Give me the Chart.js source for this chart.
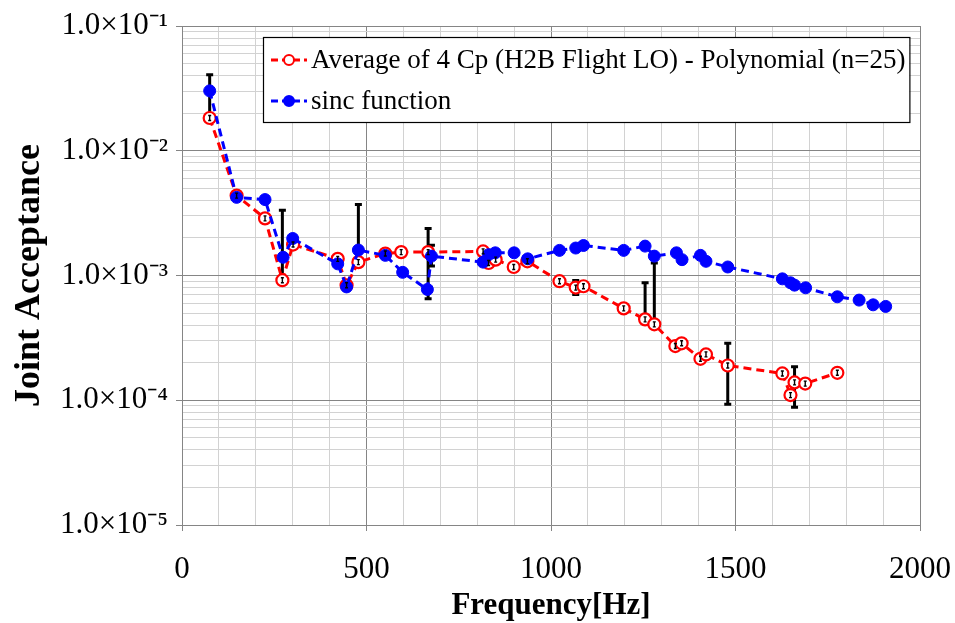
<!DOCTYPE html>
<html>
<head>
<meta charset="utf-8">
<script src="https://cdn.jsdelivr.net/npm/chart.js@4.4.1/dist/chart.umd.min.js"></script>
<style>
html,body{margin:0;padding:0;background:#fff;}
#wrap{width:955px;height:623px;}
</style>
</head>
<body>
<div id="wrap"><canvas id="c" width="955" height="623"></canvas></div>
<script>
// ---- data ----
const seriesRedLabel = 'Average of 4 Cp (H2B Flight LO) - Polynomial (n=25)';
const seriesBlueLabel = 'sinc function';

const freqRed = [75,148,225,272,301,422,446,478,551,594,667,816,831,850,899,936,1023,1067,1088,1197,1255,1280,1337,1354,1405,1420,1479,1627,1649,1660,1689,1776];
const valRed  = [0.0183,0.00437,0.00287,0.000917,0.00177,0.00136,0.000835,0.00128,0.00150,0.00154,0.00154,0.00156,0.00126,0.00134,0.00117,0.00130,0.000900,0.000800,0.000820,0.000545,0.000445,0.000406,0.000272,0.000286,0.000215,0.000233,0.000190,0.000164,0.000110,0.000139,0.000136,0.000166];

const freqBlue = [75,148,225,274,300,422,446,478,551,598,665,676,816,831,849,900,937,1023,1067,1088,1197,1255,1280,1340,1355,1405,1420,1479,1627,1649,1660,1690,1776,1835,1873,1907];
const valBlue  = [0.0302,0.00423,0.00406,0.00140,0.00198,0.00124,0.000810,0.00160,0.00145,0.00106,0.000773,0.00143,0.00128,0.00147,0.00152,0.00152,0.00136,0.00159,0.00166,0.00174,0.00159,0.00172,0.00143,0.00152,0.00134,0.00145,0.00130,0.00117,0.000940,0.000874,0.000837,0.000797,0.000675,0.000635,0.000582,0.000565];

// error bars on the red series
const errFreq = [75,272,478,667,676,1067,1255,1280,1479,1660];
const errLow  = [0.0183,0.000917,0.00128,0.000651,0.00119,0.000705,0.000445,0.000406,0.000093,0.000088];
const errHigh = [0.0406,0.00333,0.00370,0.00238,0.00175,0.000912,0.000874,0.00126,0.000286,0.000186];

const xMin = 0, xMax = 2000, xMinorStep = 100, xMajorStep = 500;
const yMinExp = -5, yMaxExp = -1;

// ---- helpers ----
const SUP = {'-':'\u207B','0':'\u2070','1':'\u00B9','2':'\u00B2','3':'\u00B3','4':'\u2074','5':'\u2075','6':'\u2076','7':'\u2077','8':'\u2078','9':'\u2079'};
function sup(s){ return String(s).split('').map(ch => SUP[ch] || ch).join(''); }
function isDecade(v){ const e = Math.log10(v); return Math.abs(e - Math.round(e)) < 1e-9; }

const yTickValues = [];
for (let e = yMinExp; e < yMaxExp; e++) {
  for (let m = 1; m <= 9; m++) yTickValues.push(m * Math.pow(10, e));
}
yTickValues.push(Math.pow(10, yMaxExp));

const MAJOR = '#858585', MINOR = '#d2d2d2';
const SERIF = '"Liberation Serif", "Times New Roman", serif';

// error bar plugin (big bars behind markers, tiny bars on top of each red marker)
const errorBars = {
  id: 'errorBars',
  beforeDatasetsDraw(chart) {
    const {ctx, chartArea, scales:{x, y}} = chart;
    ctx.save();
    ctx.beginPath();
    ctx.rect(chartArea.left, chartArea.top, chartArea.width, chartArea.height);
    ctx.clip();
    ctx.strokeStyle = '#000';
    ctx.lineWidth = 3;
    for (let i = 0; i < errFreq.length; i++) {
      const px = x.getPixelForValue(errFreq[i]);
      const y1 = y.getPixelForValue(errLow[i]);
      const y2 = y.getPixelForValue(errHigh[i]);
      ctx.beginPath();
      ctx.moveTo(px, y1); ctx.lineTo(px, y2);
      ctx.moveTo(px - 3.5, y1); ctx.lineTo(px + 3.5, y1);
      ctx.moveTo(px - 3.5, y2); ctx.lineTo(px + 3.5, y2);
      ctx.stroke();
    }
    ctx.restore();
  },
  afterDatasetsDraw(chart) {
    const {ctx, scales:{x, y}} = chart;
    ctx.save();
    ctx.strokeStyle = '#000';
    ctx.lineWidth = 1.4;
    for (let i = 0; i < freqRed.length; i++) {
      const px = x.getPixelForValue(freqRed[i]);
      const py = y.getPixelForValue(valRed[i]);
      ctx.beginPath();
      ctx.moveTo(px, py - 2.5); ctx.lineTo(px, py + 2.5);
      ctx.moveTo(px - 1.5, py - 2.5); ctx.lineTo(px + 1.5, py - 2.5);
      ctx.moveTo(px - 1.5, py + 2.5); ctx.lineTo(px + 1.5, py + 2.5);
      ctx.stroke();
    }
    ctx.restore();
  }
};

// boxed legend drawn inside the plot area
const boxLegend = {
  id: 'boxLegend',
  afterDraw(chart) {
    const {ctx, chartArea} = chart;
    const left = chartArea.left + 81, top = chartArea.top + 11;
    const rowH = 41;
    const fontPx = 27;
    ctx.save();
    ctx.font = fontPx + 'px ' + SERIF;
    const ds = chart.data.datasets;
    let maxW = 0;
    ds.forEach(d => { maxW = Math.max(maxW, ctx.measureText(d.label).width); });
    const textX = left + 48;
    const w = textX - left + maxW + 4;
    const h = rowH * ds.length + 3;
    ctx.fillStyle = '#fff';
    ctx.fillRect(left, top, w, h);
    ctx.strokeStyle = '#000';
    ctx.lineWidth = 1.2;
    ctx.strokeRect(left + 0.5, top + 0.5, w, h);
    ds.forEach((d, i) => {
      const cy = top + 23 + i * rowH;
      ctx.setLineDash([7, 4]);
      ctx.strokeStyle = d.borderColor;
      ctx.lineWidth = 3;
      ctx.beginPath();
      ctx.moveTo(left + 8, cy); ctx.lineTo(left + 44, cy);
      ctx.stroke();
      ctx.setLineDash([]);
      ctx.beginPath();
      ctx.arc(left + 26, cy, 5, 0, Math.PI * 2);
      ctx.fillStyle = d.pointBackgroundColor;
      ctx.fill();
      ctx.lineWidth = 2;
      ctx.strokeStyle = d.pointBorderColor;
      ctx.stroke();
      ctx.fillStyle = '#000';
      ctx.textBaseline = 'middle';
      ctx.textAlign = 'left';
      ctx.fillText(d.label, textX, cy + 1);
    });
    ctx.restore();
  }
};

const redData = freqRed.map((f, i) => ({x: f, y: valRed[i]}));
const blueData = freqBlue.map((f, i) => ({x: f, y: valBlue[i]}));

new Chart(document.getElementById('c'), {
  type: 'line',
  data: {
    datasets: [
      {
        label: seriesRedLabel,
        data: redData,
        borderColor: '#ff0000',
        backgroundColor: '#ff0000',
        borderWidth: 3,
        borderDash: [8, 5],
        pointRadius: 6,
        pointBorderWidth: 2.2,
        pointBackgroundColor: '#ffffff',
        pointBorderColor: '#ff0000',
        tension: 0,
        order: 1
      },
      {
        label: seriesBlueLabel,
        data: blueData,
        borderColor: '#0000ff',
        backgroundColor: '#0000ff',
        borderWidth: 3,
        borderDash: [8, 5],
        pointRadius: 6,
        pointBorderWidth: 1,
        pointBackgroundColor: '#0000ff',
        pointBorderColor: '#0000ff',
        tension: 0,
        order: 0
      }
    ]
  },
  options: {
    responsive: false,
    animation: false,
    devicePixelRatio: 1,
    layout: { padding: { left: 0, right: 35, top: 26, bottom: 0 } },
    plugins: {
      legend: { display: false },
      tooltip: { enabled: false }
    },
    scales: {
      x: {
        type: 'linear',
        min: xMin, max: xMax,
        afterFit(scale) { scale.height = 98; scale.paddingLeft = 0; scale.paddingRight = 0; },
        ticks: {
          stepSize: xMinorStep,
          autoSkip: false,
          maxRotation: 0,
          padding: 20,
          color: '#000',
          font: { family: SERIF, size: 31 },
          callback: v => (v % xMajorStep === 0 ? String(v) : '')
        },
        grid: {
          color: c => (c.tick && c.tick.value % xMajorStep === 0 ? MAJOR : MINOR),
          tickColor: c => (c.tick && c.tick.value % xMajorStep === 0 ? MAJOR : 'rgba(0,0,0,0)'),
          tickLength: 6,
          lineWidth: 1
        },
        border: { display: true, color: MAJOR, width: 1 },
        title: {
          display: true,
          text: 'Frequency[Hz]',
          color: '#000',
          font: { family: SERIF, size: 31, weight: 'bold', lineHeight: 1.1 },
          padding: { top: 0, bottom: 0 }
        }
      },
      y: {
        type: 'logarithmic',
        min: Math.pow(10, yMinExp), max: Math.pow(10, yMaxExp),
        afterFit(scale) { scale.width = 182; scale.paddingTop = 0; scale.paddingBottom = 0; },
        afterBuildTicks(scale) { scale.ticks = yTickValues.map(v => ({value: v})); },
        ticks: {
          autoSkip: false,
          padding: 8,
          color: '#000',
          font: { family: SERIF, size: 31 },
          callback: v => (isDecade(v) ? '1.0\u00D710' + sup(Math.round(Math.log10(v))) : '')
        },
        grid: {
          color: c => (c.tick && isDecade(c.tick.value) ? MAJOR : MINOR),
          tickColor: c => (c.tick && isDecade(c.tick.value) ? MAJOR : 'rgba(0,0,0,0)'),
          tickLength: 6,
          lineWidth: 1
        },
        border: { display: true, color: MAJOR, width: 1 },
        title: {
          display: true,
          text: 'Joint Acceptance',
          color: '#000',
          font: { family: SERIF, size: 36, weight: 'bold' },
          padding: { top: 8, bottom: 0 }
        }
      }
    }
  },
  plugins: [errorBars, boxLegend]
});
</script>
</body>
</html>
